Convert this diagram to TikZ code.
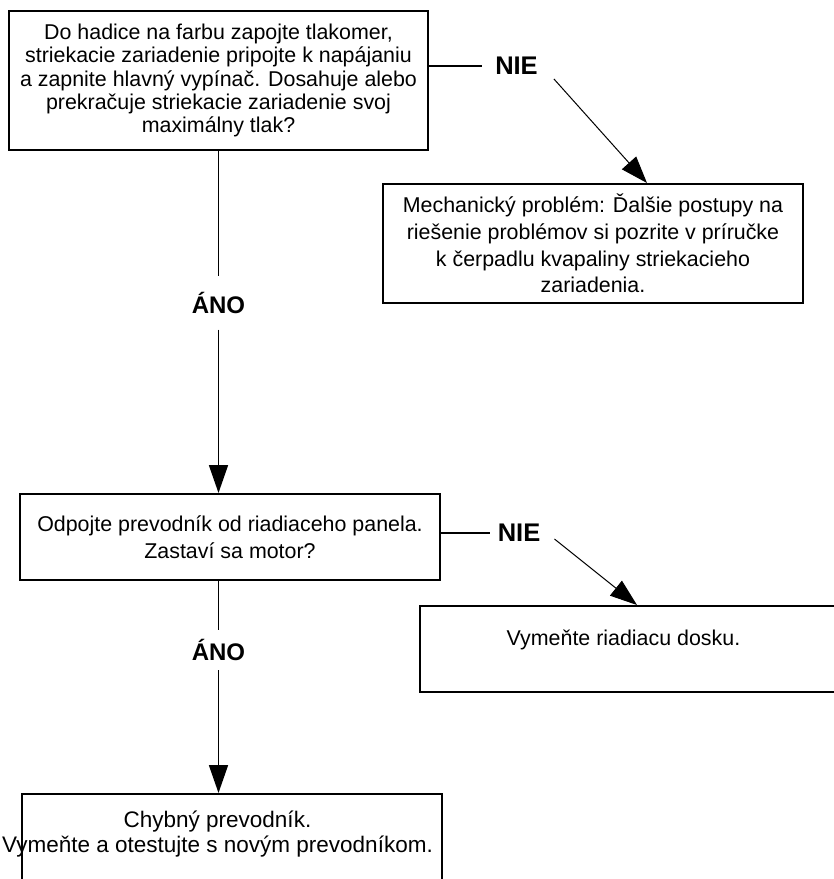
\documentclass[tikz,border=0pt]{standalone}
\usepackage{fontspec}
\setmainfont{Liberation Sans}
\usetikzlibrary{arrows.meta}
\begin{document}
\begin{tikzpicture}[x=1pt,y=-1pt,
  box/.style={draw, line width=2pt, align=center, inner sep=0pt, font=\fontsize{21.4}{26.7}\selectfont},
  boxtext/.style={align=center, inner sep=0pt, font=\fontsize{21.4}{25}\selectfont},
  lbl/.style={inner sep=0pt, font=\fontsize{24}{24}\selectfont\bfseries},
  conn/.style={line width=1.8pt},
  vtip/.style={-{Triangle[length=28pt,width=19pt]}},
  arr/.style={line width=1pt, -{Triangle[length=27pt,width=19pt]}},
]
\useasboundingbox (0,0) rectangle (834,879);

% boxes
\node[box, minimum width=419pt, minimum height=139pt, font=\fontsize{21.4}{23.4}\selectfont] (box1) at (218.5,80.5)
  {Do hadice na farbu zapojte tlakomer,\\ striekacie zariadenie pripojte k napájaniu\\ a zapnite hlavný vypínač. Dosahuje alebo\\ prekračuje striekacie zariadenie svoj\\ maximálny tlak?};
\node[box, minimum width=420pt, minimum height=119pt] (box2) at (593,243.5)
  {Mechanický problém: Ďalšie postupy na\\ riešenie problémov si pozrite v príručke\\ k čerpadlu kvapaliny striekacieho\\ zariadenia.};
\node[box, minimum width=420pt, minimum height=86pt] (box3) at (230,537)
  {Odpojte prevodník od riadiaceho panela.\\ Zastaví sa motor?};
\node[box, minimum width=430pt, minimum height=86pt] (box4) at (635,649) {};
\node[boxtext] (txt4) at (623.5,640) {Vymeňte riadiacu dosku.};
\node[box, minimum width=420pt, minimum height=106pt] (box5) at (232,847) {};
\node[boxtext, font=\fontsize{22.5}{25}\selectfont] (txt5) at (217.5,834.5) {Chybný prevodník.\\ Vymeňte a otestujte s novým prevodníkom.};

% labels
\node[lbl, minimum height=53pt] (ano1) at (218.5,303) {ÁNO};
\node[lbl, minimum height=40pt] (ano2) at (218.5,650) {ÁNO};
\node[lbl, font=\fontsize{25.5}{25.5}\selectfont\bfseries] (nie1) at (516.5,66) {NIE};
\node[lbl, font=\fontsize{25.5}{25.5}\selectfont\bfseries] (nie2) at (519,533) {NIE};

% connectors
\draw[conn] (box1.south -| ano1) -- (ano1.north);
\draw[conn, vtip] (ano1.south) -- (ano1.south |- box3.north);
\draw[conn] (box3.south -| ano2) -- (ano2.north);
\draw[conn, vtip] (ano2.south) -- (ano2.south |- box5.north);

\draw[conn] (box1.east |- nie1) -- ([xshift=-13pt]nie1.west);
\draw[arr] ([xshift=16pt,yshift=-13pt]nie1.east) -- ([xshift=265pt]box2.north west);
\draw[conn] (box3.east |- nie2) -- ([xshift=-8pt]nie2.west);
\draw[arr] ([xshift=14pt,yshift=-6pt]nie2.east) -- ([xshift=218pt]box4.north west);
\end{tikzpicture}
\end{document}
